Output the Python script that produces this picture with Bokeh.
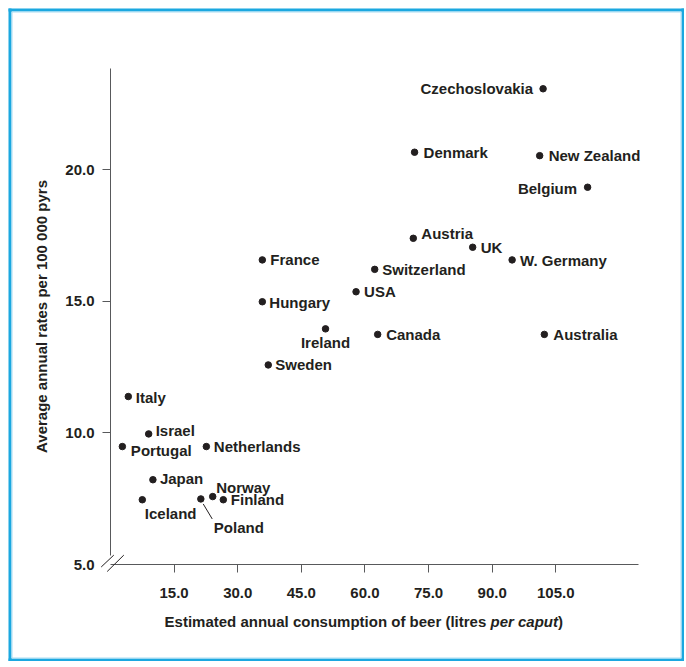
from bokeh.plotting import figure
from bokeh.models import ColumnDataSource, FixedTicker
from bokeh.core.properties import value
from bokeh.embed import file_html
from bokeh.resources import INLINE

# ---------------- data ----------------
COUNTRIES = ["Czechoslovakia", "Denmark", "New Zealand", "Belgium", "Austria", "UK",
             "W. Germany", "France", "Switzerland", "USA", "Hungary", "Ireland",
             "Canada", "Australia", "Sweden", "Italy", "Israel", "Portugal",
             "Netherlands", "Japan", "Iceland", "Poland", "Norway", "Finland"]
BEER = [102.0, 71.7, 101.2, 112.5, 71.4, 85.4,
        94.7, 35.8, 62.3, 57.9, 35.8, 50.7,
        63.0, 102.3, 37.2, 4.2, 9.0, 2.8,
        22.6, 10.0, 7.5, 21.3, 24.1, 26.6]
RATE = [23.07, 20.66, 20.53, 19.33, 17.39, 17.05,
        16.57, 16.57, 16.21, 15.36, 14.98, 13.95,
        13.74, 13.74, 12.58, 11.38, 9.96, 9.48,
        9.48, 8.22, 7.46, 7.49, 7.58, 7.46]
X_TICKS = [15, 30, 45, 60, 75, 90, 105]
X_TICK_LABELS = ["15.0", "30.0", "45.0", "60.0", "75.0", "90.0", "105.0"]
Y_TICKS = [5, 10, 15, 20]
Y_TICK_LABELS = ["5.0", "10.0", "15.0", "20.0"]
X_TITLE_MAIN = "Estimated annual consumption of beer (litres"
X_TITLE_ITALIC = "per caput"
X_TITLE_END = ")"
Y_TITLE = "Average annual rates per 100 000 pyrs"

# ---------------- label layout (pixel offsets, +dy = down) ----------------
LABEL_ALIGN = ["right", "left", "left", "right", "left", "left",
               "left", "left", "left", "left", "left", "center",
               "left", "left", "left", "left", "left", "left",
               "left", "left", "left", "left", "left", "left"]
LABEL_DX = [-10, 9, 9, -10.5, 8, 8,
            8, 8, 7.5, 8, 7, 0,
            8.5, 9, 7, 7.5, 7, 8.5,
            7.5, 7, 2.5, 13, 3.5, 7.5]
LABEL_DY = [0, 0, 0, 1, -5, 0,
            1, 0, 0, 0, 1, 13.5,
            0, 0, 0, 1, -3.5, 4,
            0, -1.5, 13.5, 28.5, -9.5, 0]

# ---------------- styling ----------------
TEXT = "#231f20"
AXIS = "#58595b"
FRAME_BLUE = "#1ba8e0"
FRAME_LIGHT = "#a9dcf2"
FONT = "Liberation Sans"
FS = "15px"

W, H = 676, 653
BL, BR, BT, BB = 102, 46, 60, 97
X0, X1 = 0, 124.5
Y0, Y1 = 5, 23.84
FW = W - BL - BR
FH = H - BT - BB
PXX = FW / (X1 - X0)
PXY = FH / (Y1 - Y0)


def dx(px):
    return px / PXX


def dy(px):
    return px / PXY


p = figure(width=W, height=H, x_range=(X0, X1), y_range=(Y0, Y1),
           output_backend="svg", toolbar_location=None,
           min_border_left=BL, min_border_right=BR,
           min_border_top=BT, min_border_bottom=BB)
p.styles = {"margin": "8px 0 0 8px"}
p.xgrid.visible = False
p.ygrid.visible = False
p.outline_line_color = None
p.background_fill_color = "white"
p.border_fill_color = "white"

xa = p.xaxis[0]
xa.ticker = FixedTicker(ticks=X_TICKS)
xa.major_label_overrides = dict(zip(X_TICKS, X_TICK_LABELS))
xa.axis_line_color = AXIS
xa.major_tick_line_color = AXIS
xa.major_tick_out = 8
xa.major_tick_in = 0
xa.minor_tick_out = 0
xa.minor_tick_in = 0
xa.major_label_standoff = 15
xa.major_label_text_font = FONT
xa.major_label_text_font_size = FS
xa.major_label_text_font_style = "bold"
xa.major_label_text_color = TEXT

ya = p.yaxis[0]
ya.ticker = FixedTicker(ticks=Y_TICKS, minor_ticks=Y_TICKS[1:])
ya.major_label_overrides = dict(zip(Y_TICKS, Y_TICK_LABELS))
ya.axis_line_color = None
ya.major_tick_out = 0
ya.major_tick_in = 0
ya.minor_tick_out = 8
ya.minor_tick_in = 0
ya.minor_tick_line_color = AXIS
ya.major_label_standoff = 8
ya.major_label_text_font = FONT
ya.major_label_text_font_size = FS
ya.major_label_text_font_style = "bold"
ya.major_label_text_color = TEXT
ya.axis_label = Y_TITLE
ya.axis_label_text_font = FONT
ya.axis_label_text_font_size = FS
ya.axis_label_text_font_style = "bold"
ya.axis_label_text_color = TEXT
ya.axis_label_standoff = 12

# ---- outer blue frame (drawn around the whole canvas) ----
cl, cr = X0 - dx(BL), X1 + dx(BR)
cb, ct = Y0 - dy(BB), Y1 + dy(BT)
o = 1.5
p.segment(x0=[cl + dx(o), cr - dx(o), cl, cl], y0=[cb, cb, cb + dy(o), ct - dy(o)],
          x1=[cl + dx(o), cr - dx(o), cr, cr], y1=[ct, ct, cb + dy(o), ct - dy(o)],
          line_color=FRAME_BLUE, line_width=3, level="overlay")
i = 3.5
p.segment(x0=[cl + dx(i), cr - dx(i), cl + dx(i), cl + dx(i)],
          y0=[cb + dy(i), cb + dy(i), cb + dy(i), ct - dy(i)],
          x1=[cl + dx(i), cr - dx(i), cr - dx(i), cr - dx(i)],
          y1=[ct - dy(i), ct - dy(i), cb + dy(i), ct - dy(i)],
          line_color=FRAME_LIGHT, line_width=1, level="overlay")

# broken y axis line
p.segment(x0=[X0], y0=[Y0 + dy(9)], x1=[X0], y1=[Y1],
          line_color=AXIS, line_width=1, level="overlay")
# axis break marks (pixel offsets from origin, +down)
BRK = [(-9.3, 2.5, 3.3, -9.4), (-3.3, 7.0, 13.3, -9.4)]
p.segment(x0=[X0 + dx(b[0]) for b in BRK], y0=[Y0 - dy(b[1]) for b in BRK],
          x1=[X0 + dx(b[2]) for b in BRK], y1=[Y0 - dy(b[3]) for b in BRK],
          line_color=TEXT, line_width=1, level="overlay")

src = ColumnDataSource(dict(x=BEER, y=RATE, name=COUNTRIES))
p.scatter(x="x", y="y", source=src, size=6.5, color=TEXT, line_color=TEXT)

for al in ["left", "right", "center"]:
    idx = [k for k, a in enumerate(LABEL_ALIGN) if a == al]
    s = ColumnDataSource(dict(x=[BEER[k] for k in idx], y=[RATE[k] for k in idx],
                              name=[COUNTRIES[k] for k in idx],
                              dx=[LABEL_DX[k] for k in idx], dy=[LABEL_DY[k] for k in idx]))
    p.text(x="x", y="y", text="name", x_offset="dx", y_offset="dy", source=s,
           text_align=al, text_baseline="middle", text_font=value(FONT),
           text_font_size=FS, text_font_style="bold", text_color=TEXT, level="overlay")

# Poland leader line
ip = COUNTRIES.index("Poland")
p.segment(x0=[BEER[ip] + dx(2.4)], y0=[RATE[ip] - dy(5)],
          x1=[BEER[ip] + dx(11.4)], y1=[RATE[ip] - dy(20)],
          line_color=TEXT, line_width=1, level="overlay")

# x axis title with italic part (glyph text below the axis)
for txt, off, al, st in [(X_TITLE_MAIN, 375.8, "right", "bold"),
                         (X_TITLE_ITALIC, 380.0, "left", "bold italic"),
                         (X_TITLE_END, 447.5, "left", "bold")]:
    p.text(x=[X0 + dx(off)], y=[Y0], text=[txt], y_offset=57,
           text_align=al, text_baseline="alphabetic", text_font=value(FONT),
           text_font_size=FS, text_font_style=st, text_color=TEXT, level="overlay")

open("out.html", "w").write(file_html(p, INLINE))
